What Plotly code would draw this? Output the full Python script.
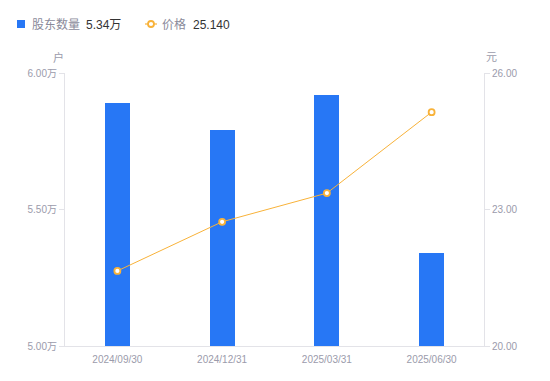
import plotly.graph_objects as go

categories = ["2024/09/30", "2024/12/31", "2025/03/31", "2025/06/30"]
holders_wan = [5.89, 5.79, 5.92, 5.34]
prices = [21.65, 22.73, 23.36, 25.14]
left_ticks = [5.0, 5.5, 6.0]
left_ticktext = ["5.00万", "5.50万", "6.00万"]
right_ticks = [20, 23, 26]
right_ticktext = ["20.00", "23.00", "26.00"]

FONT = "Liberation Sans, Noto Sans CJK SC, sans-serif"
TICK = "#9b9bab"
AXIS = "#e3e3e8"
BLUE = "#2777f5"
ORANGE = "#f8b239"
LEGTXT = "#8a8a9a"
DARK = "#333333"

W, H = 550, 381
ML, MR, MT, MB = 65, 66, 73, 35
PW, PH = W - ML - MR, H - MT - MB


def px(x):
    return (x - ML) / PW


def py(y):
    return (H - MB - y) / PH


fig = go.Figure()
fig.add_trace(go.Bar(
    x=categories, y=holders_wan, width=0.24,
    marker=dict(color=BLUE, line=dict(width=0)),
    name="股东数量", yaxis="y",
))
fig.add_trace(go.Scatter(
    x=categories, y=prices, mode="lines+markers",
    line=dict(color=ORANGE, width=1),
    marker=dict(size=6, color="white", line=dict(color=ORANGE, width=1.8)),
    name="价格", yaxis="y2",
))

shapes = [
    dict(type="rect", xref="paper", yref="paper",
         x0=px(17), x1=px(25), y0=py(20), y1=py(28),
         fillcolor=BLUE, line=dict(width=0)),
    dict(type="line", xref="paper", yref="paper",
         x0=px(145), x1=px(157), y0=py(24), y1=py(24),
         line=dict(color=ORANGE, width=1.2)),
    dict(type="circle", xref="paper", yref="paper",
         x0=px(148), x1=px(154), y0=py(21), y1=py(27),
         fillcolor="white", line=dict(color=ORANGE, width=1.8)),
]

annotations = [
    dict(text="股东数量", xref="paper", yref="paper", x=px(30), y=py(25),
         xanchor="left", yanchor="middle", showarrow=False,
         font=dict(size=12, color=LEGTXT)),
    dict(text="%.2f万" % holders_wan[-1], xref="paper", yref="paper", x=px(84), y=py(25),
         xanchor="left", yanchor="middle", showarrow=False,
         font=dict(size=12, color=DARK)),
    dict(text="价格", xref="paper", yref="paper", x=px(160), y=py(25),
         xanchor="left", yanchor="middle", showarrow=False,
         font=dict(size=12, color=LEGTXT)),
    dict(text="%.3f" % prices[-1], xref="paper", yref="paper", x=px(191), y=py(25),
         xanchor="left", yanchor="middle", showarrow=False,
         font=dict(size=12, color=DARK)),
    dict(text="户", xref="paper", yref="paper", x=px(66), y=py(57),
         xanchor="right", yanchor="middle", showarrow=False,
         font=dict(size=11, color=TICK)),
    dict(text="元", xref="paper", yref="paper", x=px(484), y=py(57),
         xanchor="left", yanchor="middle", showarrow=False,
         font=dict(size=11, color=TICK)),
]

fig.update_layout(
    width=W, height=H,
    margin=dict(l=ML, r=MR, t=MT, b=MB, autoexpand=False),
    paper_bgcolor="white", plot_bgcolor="white",
    font=dict(family=FONT, size=10, color=TICK),
    showlegend=False,
    bargap=0,
    xaxis=dict(type="category", range=[-0.5, 3.5], showline=True, linecolor=AXIS,
               linewidth=1, ticks="", tickfont=dict(size=10, color=TICK),
               ticklabelstandoff=4, showgrid=False, zeroline=False),
    yaxis=dict(range=[5.0, 6.0], tickvals=left_ticks, ticktext=left_ticktext,
               showline=True, linecolor=AXIS, linewidth=1, ticks="outside",
               ticklen=5, tickcolor=AXIS, showgrid=False, zeroline=False,
               tickfont=dict(size=10, color=TICK)),
    yaxis2=dict(range=[20, 26], tickvals=right_ticks, ticktext=right_ticktext,
                overlaying="y", side="right", showline=True, linecolor=AXIS,
                linewidth=1, ticks="outside", ticklen=5, tickcolor=AXIS,
                showgrid=False, zeroline=False, tickfont=dict(size=10, color=TICK)),
    shapes=shapes,
    annotations=annotations,
)

fig.write_html("out.html", config={"displayModeBar": False},
               post_script="document.body.style.margin='0px';")
